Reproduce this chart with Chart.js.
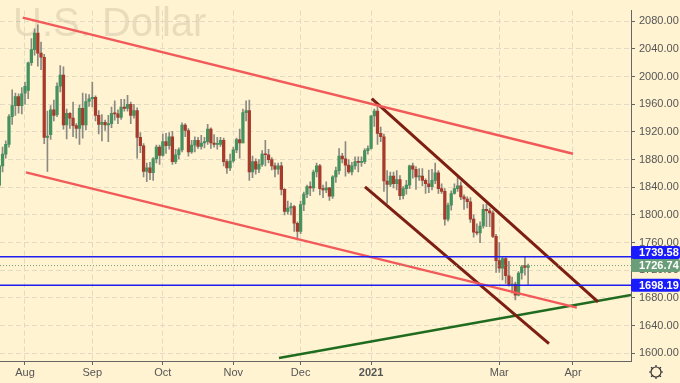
<!DOCTYPE html>
<html><head><meta charset="utf-8">
<script src="https://cdn.jsdelivr.net/npm/chart.js@4.4.1/dist/chart.umd.min.js"></script>
<style>html,body{margin:0;padding:0;background:#fff3d1;overflow:hidden}</style>
</head><body>
<canvas id="c" width="680" height="383"></canvas>
<script>
// ---- DATA (daily bars, XAU/USD, 22 Jul 2020 .. 12 Mar 2021) ----
const firstBarIndex = -8; // bar index 0 = first trading day of August 2020
const open = [
1843,1871,1888,1902,1942,1958,1971,1958,
1976,1980,2020,2039,2063,2034,2028,1912,1916,1952,1945,1986,2002,1930,1947,1940,1929,1925,1954,1930,1964,
1968,1970,1944,1931,1934,1930,1932,1947,1946,1941,1956,1954,1960,1944,1951,1912,1900,1863,1868,1861,1881,1898,
1886,1906,1900,1913,1877,1887,1894,1930,1922,1891,1901,1908,1899,1904,1906,1924,1904,1902,1902,1908,1877,1868,
1878,1894,1909,1904,1948,1951,1862,1877,1866,1873,1888,1887,1880,1871,1866,1871,1837,1805,1810,1812,1788,
1776,1815,1830,1841,1839,1862,1871,1838,1836,1839,1827,1855,1864,1885,1881,1872,1862,1871,1877,1876,1877,1893,
1896,1943,1950,1918,1913,1849,1844,1856,1845,1851,1828,1838,1843,1871,1866,1855,1856,1850,1845,1841,
1850,1861,1838,1834,1794,1814,1831,1838,1842,1826,1823,1819,1794,1775,1774,1784,1808,1806,1803,1769,
1734,1723,1737,1712,1698,1700,1684,1716,1727,1724];
const high = [
1872,1898,1907,1945,1981,1976,1975,1984,
1992,2021,2055,2069,2075,2050,2032,1950,1958,1966,1991,2016,2014,1953,1948,1963,1932,1959,1976,1975,1974,
1992,1972,1951,1945,1937,1944,1956,1965,1952,1967,1967,1973,1963,1960,1955,1919,1903,1875,1876,1883,1901,1901,
1917,1918,1919,1921,1895,1897,1933,1932,1925,1908,1913,1912,1915,1912,1931,1926,1916,1912,1912,1911,1880,1888,
1898,1911,1924,1953,1965,1966,1885,1881,1880,1893,1908,1895,1883,1875,1875,1876,1838,1820,1817,1814,1790,
1820,1833,1843,1848,1865,1875,1873,1843,1848,1840,1857,1869,1896,1889,1906,1880,1876,1884,1884,1884,1896,1900,
1944,1953,1959,1927,1917,1864,1862,1862,1864,1857,1841,1850,1872,1875,1870,1867,1867,1852,1865,1866,
1875,1864,1845,1838,1817,1835,1845,1855,1848,1829,1826,1825,1800,1787,1790,1815,1816,1810,1806,1772,
1760,1740,1739,1733,1710,1703,1718,1727,1739.58,1729];
const low = [
1840,1862,1882,1898,1931,1944,1947,1946,
1960,1968,2016,2031,2015,2010,1903,1863,1909,1936,1942,1978,1924,1910,1925,1913,1911,1902,1911,1923,1957,
1956,1936,1917,1907,1922,1906,1926,1937,1932,1938,1950,1950,1932,1940,1882,1890,1855,1848,1851,1850,1875,1873,
1885,1889,1895,1873,1874,1881,1891,1913,1885,1889,1891,1896,1895,1897,1902,1896,1898,1895,1899,1871,1860,1864,
1876,1890,1882,1904,1936,1850,1854,1859,1861,1870,1871,1875,1865,1855,1859,1829,1800,1801,1800,1776,1764,
1773,1806,1825,1828,1834,1855,1829,1825,1832,1821,1824,1847,1859,1875,1856,1860,1858,1866,1862,1870,1874,1888,
1895,1928,1902,1906,1834,1817,1841,1839,1836,1822,1823,1830,1838,1853,1837,1850,1842,1831,1832,1836,
1845,1831,1831,1785,1791,1807,1830,1834,1822,1808,1810,1789,1768,1771,1760,1781,1783,1783,1767,1717,
1717,1706,1701,1697,1687,1677,1683,1707,1713,1699.6];
const close = [
1871,1888,1902,1942,1958,1971,1958,1975,
1986,2020,2039,2063,2034,2028,1912,1914,1952,1944,1986,2002,1930,1947,1940,1929,1925,1954,1930,1964,1968,
1970,1944,1931,1934,1930,1932,1947,1946,1941,1956,1954,1960,1944,1951,1912,1900,1863,1868,1861,1881,1898,1886,
1906,1900,1913,1877,1887,1894,1930,1922,1891,1901,1908,1899,1904,1906,1924,1904,1902,1902,1908,1877,1868,1878,
1894,1909,1904,1948,1951,1862,1877,1866,1873,1888,1887,1880,1871,1866,1871,1837,1805,1810,1812,1788,1776,
1815,1830,1841,1839,1862,1871,1838,1836,1839,1827,1855,1864,1885,1881,1872,1862,1871,1877,1876,1877,1893,1896,
1943,1950,1918,1913,1849,1844,1856,1845,1851,1828,1838,1843,1871,1866,1855,1856,1850,1845,1841,1850,
1861,1838,1834,1794,1814,1831,1838,1842,1826,1823,1819,1794,1775,1774,1784,1808,1806,1803,1769,1734,
1723,1737,1712,1698,1700,1684,1716,1725,1724,1726.74];

const monthTickIndex  = [0, 21, 43, 65, 86, 108, 148, 171];
const monthTickLabels = ['Aug','Sep','Oct','Nov','Dec','2021','Mar','Apr'];
const priceTicks = [1600,1640,1680,1720,1760,1800,1840,1880,1920,1960,2000,2040,2080];
const levelPrices = [1739.58, 1698.19];
const lastPrice = 1726.74;
// trend lines as [barIndex1, price1, barIndex2, price2]
const upperRedLine    = [-0.7, 2085.2, 171.0, 1888.4];
const lowerRedLine    = [0.3, 1861.5, 172.2, 1666.0];
const upperBrownLine  = [108.2, 1968.2, 178.8, 1674.4];
const lowerBrownLine  = [106.1, 1840.4, 163.5, 1614.0];
const greenLine       = [79.25, 1593.0, 189.1, 1684.2];
const watermarkText = 'U.S. Dollar';

// ---- view ----
const X_MIN = -7.8, X_MAX = 189.1, Y_MIN = 1588.8, Y_MAX = 2095.4;
const BG = '#fff3d1';
const UP = '#45925f', DOWN = '#a63b2c', WICK = '#8a8a82';

const idx = open.map((_, i) => i + firstBarIndex);
const wickData = idx.map((x, i) => ({x, y: [low[i], high[i]]}));
const bodyData = idx.map((x, i) => ({x, y: [Math.min(open[i], close[i]), Math.max(open[i], close[i])]}));
const bodyColors = open.map((o, i) => close[i] >= o ? UP : DOWN);

function seg(a, color, width, dash) {
  return {type: 'line', data: [{x: a[0], y: a[1]}, {x: a[2], y: a[3]}], borderColor: color,
    borderWidth: width, pointRadius: 0, borderDash: dash || [], order: 0, tension: 0};
}
const datasets = [
  {type: 'bar', data: wickData, backgroundColor: WICK, grouped: false, maxBarThickness: 1,
   barPercentage: 1, categoryPercentage: 1, order: 3},
  {type: 'bar', data: bodyData, backgroundColor: bodyColors, grouped: false, maxBarThickness: 2.6,
   barPercentage: 1, categoryPercentage: 1, minBarLength: 1, order: 2},
  seg([X_MIN, lastPrice, X_MAX, lastPrice], '#6e9f7c', 1, [1, 2]),
  seg([X_MIN, levelPrices[0], X_MAX, levelPrices[0]], '#1d1df2', 1.5),
  seg([X_MIN, levelPrices[1], X_MAX, levelPrices[1]], '#1d1df2', 1.5),
  seg(upperRedLine, '#f25a5a', 2.5),
  seg(lowerRedLine, '#f25a5a', 2.5),
  seg(upperBrownLine, '#7d1e12', 3),
  seg(lowerBrownLine, '#7d1e12', 3),
  seg(greenLine, '#1f6b1f', 2.5),
];

const FONT = '"Liberation Sans", Arial, sans-serif';
const NARROW = '"Liberation Sans Narrow", "Liberation Sans", Arial, sans-serif';
const overlay = {
  id: 'overlay',
  beforeDraw(chart) {
    const {ctx, width, height} = chart;
    ctx.save(); ctx.fillStyle = BG; ctx.fillRect(0, 0, width, height); ctx.restore();
  },
  beforeDatasetsDraw(chart) {
    const ctx = chart.ctx;
    ctx.save();
    ctx.font = '40px ' + FONT;
    ctx.fillStyle = 'rgba(150,140,115,0.22)';
    ctx.textBaseline = 'alphabetic';
    ctx.fillText(watermarkText, 13, 36);
    ctx.restore();
  },
  afterDraw(chart) {
    const ctx = chart.ctx, ys = chart.scales.y, ca = chart.chartArea;
    const tags = [
      {v: lastPrice, bg: '#6a9e78'},
      {v: levelPrices[0], bg: '#1a1aff'},
      {v: levelPrices[1], bg: '#1a1aff'},
    ];
    const yLast = ys.getPixelForValue(lastPrice);
    ctx.save();
    ctx.font = 'bold 11px ' + NARROW;
    ctx.textBaseline = 'middle';
    tags.forEach(t => {
      let y = ys.getPixelForValue(t.v);
      if (t.v !== lastPrice && Math.abs(y - yLast) < 13.5) y = y < yLast ? yLast - 13 : yLast + 13;
      ctx.fillStyle = t.bg;
      ctx.beginPath();
      ctx.roundRect(ca.right, y - 6.5, 680 - ca.right, 13, 2);
      ctx.fill();
      ctx.fillStyle = '#ffffff';
      ctx.fillText(t.v.toFixed(2), ca.right + 8, y + 0.5);
    });
    // settings gear
    const gx = 656, gy = 372, r = 5;
    ctx.strokeStyle = '#333'; ctx.lineWidth = 1.2;
    ctx.beginPath(); ctx.arc(gx, gy, r, 0, Math.PI * 2); ctx.stroke();
    for (let k = 0; k < 8; k++) {
      const a = k * Math.PI / 4;
      ctx.beginPath();
      ctx.moveTo(gx + Math.cos(a) * r, gy + Math.sin(a) * r);
      ctx.lineTo(gx + Math.cos(a) * (r + 2), gy + Math.sin(a) * (r + 2));
      ctx.stroke();
    }
    ctx.restore();
  }
};

new Chart(document.getElementById('c'), {
  type: 'bar',
  data: {datasets},
  plugins: [overlay],
  options: {
    responsive: false, animation: false, devicePixelRatio: 1,
    layout: {padding: 0},
    plugins: {legend: {display: false}, tooltip: {enabled: false}},
    scales: {
      x: {
        type: 'linear', min: X_MIN, max: X_MAX, offset: false,
        afterBuildTicks: s => { s.ticks = monthTickIndex.map(v => ({value: v})); },
        afterFit: s => { s.height = 22; },
        grid: {offset: false, color: '#e3dac4', tickColor: '#666', tickLength: 4, lineWidth: 1},
        border: {display: true, color: '#666', width: 1, dash: [5, 3]},
        ticks: {
          autoSkip: false, maxRotation: 0, padding: 1, color: '#555',
          font: ctx => ({family: FONT, size: 11, weight: (ctx.tick && monthTickLabels[monthTickIndex.indexOf(ctx.tick.value)] === '2021') ? 'bold' : 'normal'}),
          callback: v => monthTickLabels[monthTickIndex.indexOf(v)] ?? ''
        }
      },
      y: {
        type: 'linear', position: 'right', min: Y_MIN, max: Y_MAX,
        afterBuildTicks: s => { s.ticks = priceTicks.map(v => ({value: v})); },
        afterFit: s => { s.width = 49; },
        grid: {offset: false, color: '#e3dac4', tickColor: '#666', tickLength: 4, lineWidth: 1},
        border: {display: true, color: '#666', width: 1, dash: [5, 3]},
        ticks: {padding: 4, color: '#555', font: {family: NARROW, size: 11},
          callback: v => Number(v).toFixed(2)}
      }
    }
  }
});
</script>
</body></html>
